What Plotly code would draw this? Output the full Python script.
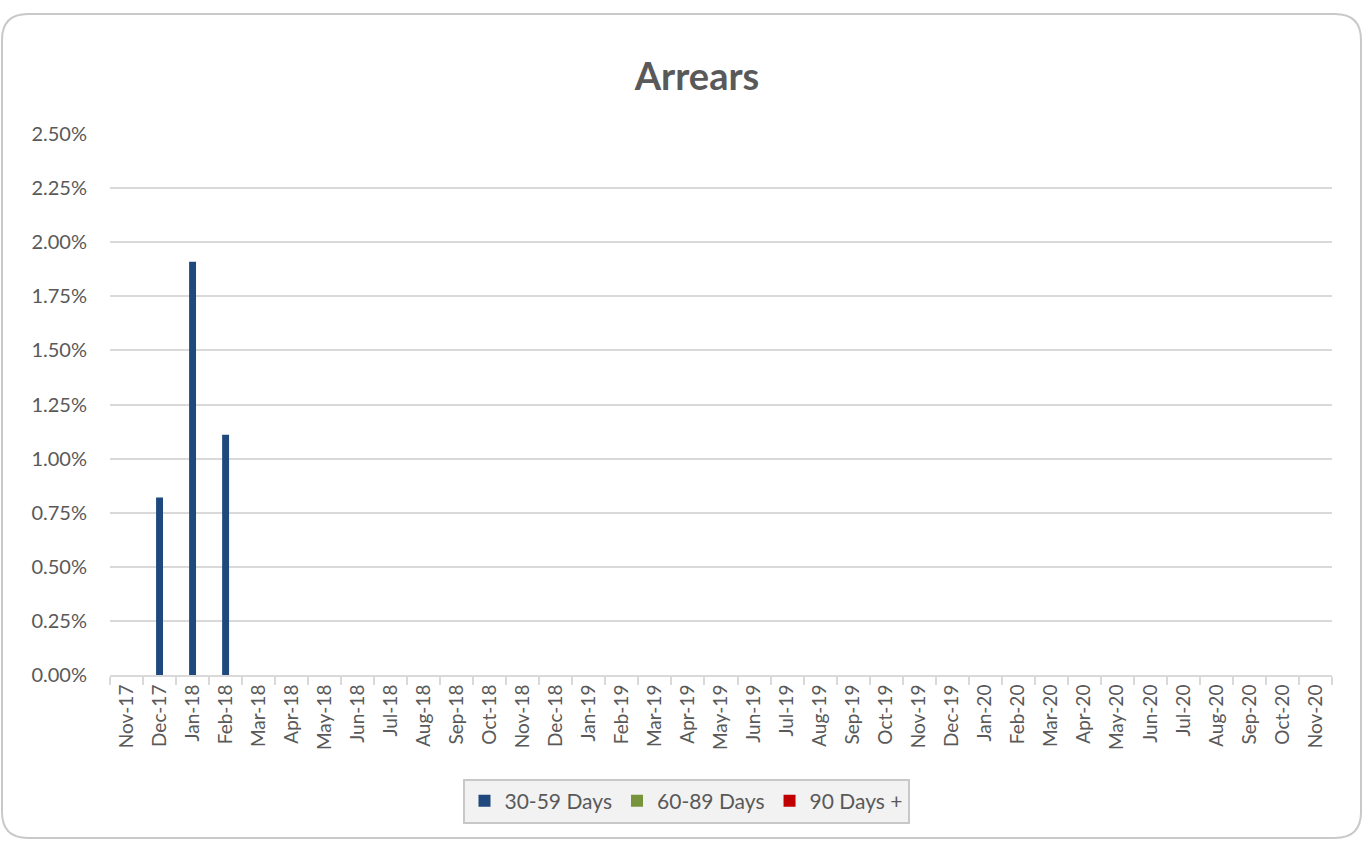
import plotly.graph_objects as go

months = ["Nov-17", "Dec-17", "Jan-18", "Feb-18", "Mar-18", "Apr-18", "May-18", "Jun-18",
          "Jul-18", "Aug-18", "Sep-18", "Oct-18", "Nov-18", "Dec-18", "Jan-19", "Feb-19",
          "Mar-19", "Apr-19", "May-19", "Jun-19", "Jul-19", "Aug-19", "Sep-19", "Oct-19",
          "Nov-19", "Dec-19", "Jan-20", "Feb-20", "Mar-20", "Apr-20", "May-20", "Jun-20",
          "Jul-20", "Aug-20", "Sep-20", "Oct-20", "Nov-20"]

days_30_59 = [0, 0.0082, 0.0191, 0.0111] + [0] * 33
days_60_89 = [0] * 37
days_90_plus = [0] * 37

series = [
    ("30-59 Days", days_30_59, "#1f497d"),
    ("60-89 Days", days_60_89, "#77933c"),
    ("90 Days +", days_90_plus, "#c00000"),
]

FONT = "Lato"
GRAY = "#595959"

fig = go.Figure()
for name, vals, color in series:
    fig.add_trace(go.Bar(x=months, y=vals, name=name, marker=dict(color=color, line=dict(width=0)),
                         width=0.21))

W, H = 1364, 841
L, R, T, B = 110, 1332, 134, 675

def px_x(p):
    return (p - L) / (R - L)

def px_y(p):
    return (B - p) / (B - T)

# rounded border path in paper coordinates
x0, x1, y0, y1, r = 2, 1361, 14, 838, 26
path = (f"M {px_x(x0 + r)},{px_y(y0)} L {px_x(x1 - r)},{px_y(y0)} "
        f"Q {px_x(x1)},{px_y(y0)} {px_x(x1)},{px_y(y0 + r)} "
        f"L {px_x(x1)},{px_y(y1 - r)} Q {px_x(x1)},{px_y(y1)} {px_x(x1 - r)},{px_y(y1)} "
        f"L {px_x(x0 + r)},{px_y(y1)} Q {px_x(x0)},{px_y(y1)} {px_x(x0)},{px_y(y1 - r)} "
        f"L {px_x(x0)},{px_y(y0 + r)} Q {px_x(x0)},{px_y(y0)} {px_x(x0 + r)},{px_y(y0)} Z")

fig.update_layout(
    width=W, height=H,
    margin=dict(l=L, r=W - R, t=T, b=H - B),
    paper_bgcolor="white", plot_bgcolor="white",
    barmode="overlay",
    title=dict(text="<b>Arrears</b>", x=697 / W, xanchor="center", y=1 - 77 / H, yanchor="middle",
               font=dict(family=FONT, size=38, color=GRAY)),
    font=dict(family=FONT, color=GRAY),
    showlegend=True,
    legend=dict(orientation="h", xref="container", yref="container",
                x=686 / W, xanchor="center", y=1 - 801 / H, yanchor="middle",
                bgcolor="#f2f2f2", bordercolor="#c8c8c8", borderwidth=2,
                font=dict(family=FONT, size=21, color=GRAY),
                itemwidth=30, traceorder="normal"),
    shapes=[dict(type="path", path=path, xref="paper", yref="paper",
                 line=dict(color="#c9c9c9", width=2), layer="below")],
)

fig.update_yaxes(range=[0, 0.025], tickvals=[i * 0.0025 for i in range(11)], tickformat=".2%",
                 showgrid=True, gridcolor="#d9d9d9", gridwidth=2, zeroline=False,
                 showline=False, ticks="", ticklabelstandoff=22,
                 tickfont=dict(family=FONT, size=20, color=GRAY))
fig.update_xaxes(type="category", tickangle=-90, tickson="boundaries", ticks="outside",
                 ticklen=8, tickcolor="#d9d9d9", tickwidth=2,
                 showline=True, linecolor="#d9d9d9", linewidth=2, showgrid=False,
                 range=[-0.5, 36.5],
                 tickfont=dict(family=FONT, size=19, color=GRAY))

fig.write_html("out.html")
